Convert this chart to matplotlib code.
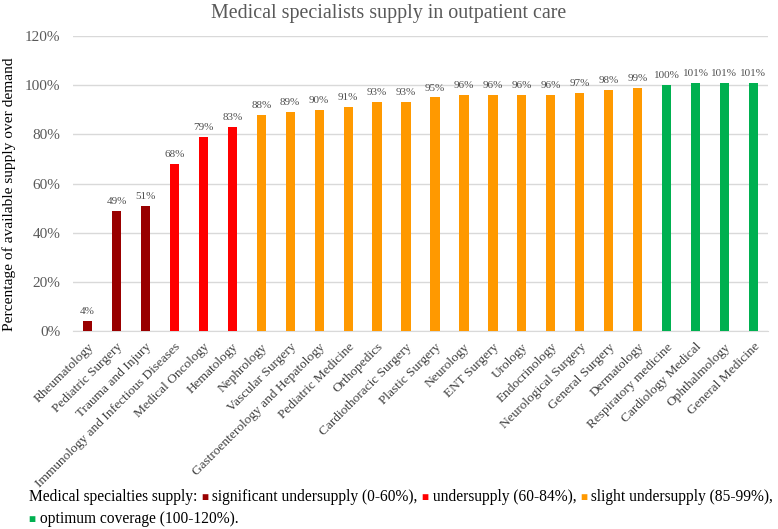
import numpy as np
import matplotlib
matplotlib.use("Agg")
from matplotlib import pyplot as plt

# Data
specialties = ["Rheumatology", "Pediatric Surgery", "Trauma and Injury",
               "Immunology and Infectious Diseases", "Medical Oncology", "Hematology",
               "Nephrology", "Vascular Surgery", "Gastroenterology and Hepatology",
               "Pediatric Medicine", "Orthopedics", "Cardiothoracic Surgery",
               "Plastic Surgery", "Neurology", "ENT Surgery", "Urology",
               "Endocrinology", "Neurological Surgery", "General Surgery",
               "Dermatology", "Respiratory medicine", "Cardiology Medical",
               "Ophthalmology", "General Medicine"]
supply = [4, 49, 51, 68, 79, 83, 88, 89, 90, 91, 93, 93, 95, 96, 96, 96, 96,
          97, 98, 99, 100, 101, 101, 101]
groups = [0, 0, 0, 1, 1, 1, 2, 2, 2, 2, 2, 2, 2, 2, 2, 2, 2, 2, 2, 2, 3, 3, 3, 3]
group_labels = ["significant undersupply (0-60%),", "undersupply (60-84%),",
                "slight undersupply (85-99%),", "optimum coverage (100-120%)."]
group_colors = ["#990000", "#FF0000", "#FF9900", "#00B050"]

serif = ["Liberation Serif", "DejaVu Serif"]
plt.rcParams["font.family"] = serif

fig = plt.figure(figsize=(7.78, 5.29), dpi=100)
ax = fig.add_axes([0.094, 0.374, 0.893, 0.558])

x = np.arange(len(specialties))
colors = [group_colors[g] for g in groups]
ax.bar(x, supply, width=0.32, color=colors, zorder=3)

for xi, v in zip(x, supply):
    ax.text(xi, v + 2, "%d%%" % v, ha="center", va="bottom",
            fontsize=8, color="#505050")

ax.set_xlim(-0.5, len(specialties) - 0.5)
ax.set_ylim(0, 120)
ax.set_yticks(range(0, 121, 20))
ax.set_yticklabels(["%d%%" % t for t in range(0, 121, 20)],
                   fontsize=11, color="#595959")
ax.grid(axis="y", color="#d9d9d9", linewidth=1, zorder=0)
ax.set_xticks(x)
ax.set_xticklabels(specialties, rotation=45, ha="right",
                   rotation_mode="anchor", fontsize=9.6, color="#404040")
ax.tick_params(length=0)
ax.tick_params(axis="x", pad=7)
ax.tick_params(axis="y", pad=9)
for s in ["top", "right", "left"]:
    ax.spines[s].set_visible(False)
ax.spines["bottom"].set_color("#d9d9d9")

ax.set_ylabel("Percentage of available supply over demand", fontsize=11.1)
ax.yaxis.set_label_coords(-0.082, 0.464)
fig.text(0.5, 0.975, "Medical specialists supply in outpatient care",
         fontsize=14.4, color="#595959", ha="center", va="center")

# Inline legend: text pieces placed one after another
renderer = fig.canvas.get_renderer()
fig_w = fig.get_window_extent().width
pieces = [("Medical specialties supply: ", "black", 11.2, 0.053)]
for i, (lab, col) in enumerate(zip(group_labels, group_colors)):
    y = 0.012 if i == 3 else 0.053
    pieces.append(("\u25a0", col, 8.5, y))
    pieces.append((" " + lab + " ", "black", 11.2, y))

xpos = 0.037
last_y = 0.053
for txt, col, size, y in pieces:
    if y != last_y:
        xpos = 0.037
        last_y = y
    t = fig.text(xpos, y, txt, color=col, fontsize=size, va="baseline")
    xpos += t.get_window_extent(renderer).width / fig_w

fig.savefig("out.png", dpi=100)
